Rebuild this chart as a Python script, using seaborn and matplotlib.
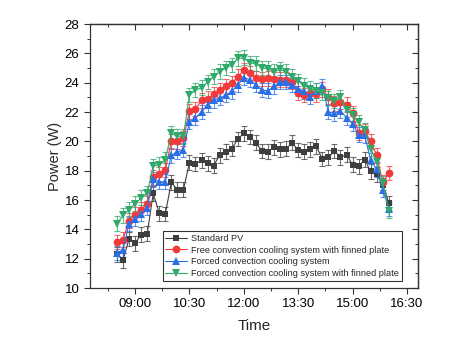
import matplotlib

matplotlib.use("Agg")
import matplotlib.pyplot as plt
import pandas as pd
import seaborn as sns
from matplotlib.ticker import FuncFormatter, MultipleLocator

# Sampling times (every 10 min).
TIMES = [
    "08:30", "08:40", "08:50", "09:00", "09:10", "09:20", "09:30", "09:40",
    "09:50", "10:00", "10:10", "10:20", "10:30", "10:40", "10:50", "11:00",
    "11:10", "11:20", "11:30", "11:40", "11:50", "12:00", "12:10", "12:20",
    "12:30", "12:40", "12:50", "13:00", "13:10", "13:20", "13:30", "13:40",
    "13:50", "14:00", "14:10", "14:20", "14:30", "14:40", "14:50", "15:00",
    "15:10", "15:20", "15:30", "15:40", "15:50", "16:00",
]

STANDARD_PV = [
    12.3, 11.9, 13.35, 13.05, 13.65, 13.7, 16.45, 15.1, 15.05, 17.2, 16.7, 16.7,
    18.55, 18.45, 18.7, 18.5, 18.35, 19.05, 19.3, 19.5, 20.15, 20.55, 20.3, 19.9,
    19.35, 19.3, 19.6, 19.45, 19.5, 19.9, 19.4, 19.3, 19.45, 19.65, 18.8, 18.9,
    19.35, 18.9, 19.1, 18.4, 18.3, 18.75, 17.95, 17.75, 17.0, 15.8,
]
FREE_FINNED = [
    13.15, 13.3, 14.6, 15.0, 15.35, 15.75, 17.55, 17.75, 18.05, 20.0, 20.0, 20.2,
    22.05, 22.2, 22.8, 22.9, 23.2, 23.5, 23.75, 23.95, 24.4, 24.85, 24.65, 24.3,
    24.25, 24.3, 24.25, 24.2, 24.2, 24.05, 23.3, 23.15, 23.3, 23.2, 23.55, 23.05,
    22.6, 22.7, 22.5, 21.9, 20.6, 20.7, 20.0, 19.05, 17.2, 17.85,
]
FORCED = [
    12.4, 12.6, 14.4, 14.7, 15.05, 15.45, 17.4, 17.25, 17.25, 19.05, 19.3, 19.4,
    21.35, 21.6, 22.0, 22.5, 22.8, 22.95, 23.15, 23.4, 23.85, 24.35, 24.2, 23.85,
    23.5, 23.45, 23.75, 24.05, 24.05, 23.85, 23.6, 23.4, 23.05, 23.45, 23.75, 22.0,
    21.9, 22.1, 21.6, 21.2, 20.45, 20.4, 18.7, 18.1, 16.7, 15.4,
]
FORCED_FINNED = [
    14.4, 14.95, 15.35, 15.75, 16.15, 16.45, 18.3, 18.4, 18.75, 20.55, 20.35, 20.35,
    23.15, 23.5, 23.65, 24.05, 24.4, 24.75, 25.0, 25.2, 25.65, 25.7, 25.35, 25.3,
    25.0, 24.95, 24.75, 24.9, 24.75, 24.4, 24.1, 23.8, 23.6, 23.45, 23.3, 22.95,
    22.75, 23.0, 22.15, 21.8, 21.3, 20.75, 19.5, 18.6, 17.15, 15.25,
]
ERROR = 0.5

SERIES = [
    ("Standard PV", STANDARD_PV, "#3f3f3f", "s", 5.0),
    ("Free convection cooling system with finned plate", FREE_FINNED, "#f23a3a", "o", 5.6),
    ("Forced convection cooling system", FORCED, "#2a6fe8", "^", 5.8),
    ("Forced convection cooling system with finned plate", FORCED_FINNED, "#2faa6b", "v", 5.8),
]


def to_minutes(hhmm: str) -> int:
    h, m = hhmm.split(":")
    return int(h) * 60 + int(m)


def fmt_time(x, _pos) -> str:
    x = int(round(x))
    return f"{x // 60:02d}:{x % 60:02d}"


minutes = [to_minutes(t) for t in TIMES]

sns.set_style("ticks")
plt.rcParams["font.family"] = ["Liberation Sans", "DejaVu Sans"]

fig = plt.figure(figsize=(4.7, 3.53), dpi=100)
ax = fig.add_axes([0.191, 0.184, 0.698, 0.748])

for label, values, color, marker, ms in SERIES:
    df = pd.DataFrame({"time": minutes, "power": values})
    ax.errorbar(
        df["time"], df["power"], yerr=ERROR, fmt="none", ecolor=color,
        elinewidth=0.8, capsize=2.5, capthick=0.8, alpha=0.75, zorder=2,
    )
    sns.lineplot(
        data=df, x="time", y="power", ax=ax, color=color, marker=marker,
        markersize=ms, markeredgewidth=0, linewidth=0.8, label=label, zorder=3,
    )

ax.set_xlim(465, 1008)
ax.set_ylim(10, 28)
ax.xaxis.set_major_locator(MultipleLocator(90))
ax.xaxis.set_minor_locator(MultipleLocator(45))
ax.xaxis.set_major_formatter(FuncFormatter(fmt_time))
ax.yaxis.set_major_locator(MultipleLocator(2))
ax.yaxis.set_minor_locator(MultipleLocator(1))
ax.tick_params(which="major", direction="out", length=4, width=0.8, labelsize=9.5, colors="#333333")
ax.tick_params(which="minor", direction="out", length=2.2, width=0.7, colors="#333333")
ax.tick_params(labelcolor="black")

# Mirrored ticks on top and right, pointing inwards.
top = ax.secondary_xaxis("top")
top.xaxis.set_major_locator(MultipleLocator(90))
top.xaxis.set_minor_locator(MultipleLocator(45))
top.tick_params(which="major", direction="in", length=4, width=0.8, labeltop=False, colors="#333333")
top.tick_params(which="minor", direction="in", length=2.2, width=0.7, colors="#333333")
right = ax.secondary_yaxis("right")
right.yaxis.set_major_locator(MultipleLocator(2))
right.yaxis.set_minor_locator(MultipleLocator(1))
right.tick_params(which="major", direction="in", length=4, width=0.8, labelright=False, colors="#333333")
right.tick_params(which="minor", direction="in", length=2.2, width=0.7, colors="#333333")

for spine in ax.spines.values():
    spine.set_visible(True)
    spine.set_linewidth(0.9)
    spine.set_color("#333333")
for sec in (top, right):
    for spine in sec.spines.values():
        spine.set_linewidth(0.9)
        spine.set_color("#333333")

ax.set_xlabel("Time", fontsize=11, labelpad=6)
ax.set_ylabel("Power (W)", fontsize=10.5, labelpad=2)

leg = ax.legend(
    loc="lower right", bbox_to_anchor=(0.951, 0.027), borderaxespad=0,
    fontsize=6.6, frameon=True, fancybox=False, handlelength=2.4,
    handletextpad=0.4, labelspacing=0.3, borderpad=0.3,
)
leg.get_frame().set_edgecolor("black")
leg.get_frame().set_linewidth(0.8)

fig.savefig("out.png", dpi=100)
